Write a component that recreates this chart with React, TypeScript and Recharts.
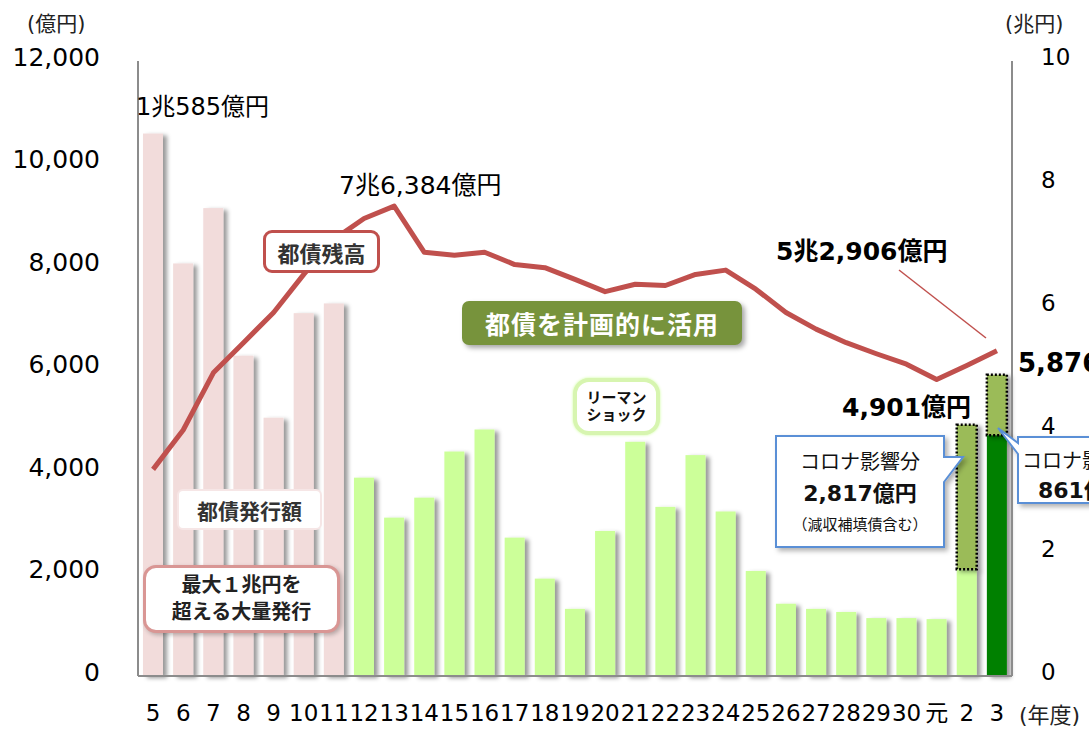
import React from "react";
import { Bar, Cell, ComposedChart, Line, XAxis, YAxis } from "recharts";

const FONT = '"DejaVu Sans", "Noto Sans CJK JP", sans-serif';

const YEARS = [
  "5", "6", "7", "8", "9", "10", "11", "12", "13", "14", "15", "16", "17", "18", "19",
  "20", "21", "22", "23", "24", "25", "26", "27", "28", "29", "30", "元", "2", "3",
];

// 都債発行額（億円）
const ISSUANCE = [
  10585, 8050, 9130, 6250, 5040, 7080, 7270, 3870, 3090, 3480, 4380, 4810, 2700, 1900, 1310,
  2830, 4570, 3300, 4310, 3210, 2050, 1410, 1310, 1250, 1130, 1130, 1110, 2084, 4700,
];

// コロナ影響分（億円）
const COVID = [
  0, 0, 0, 0, 0, 0, 0, 0, 0, 0, 0, 0, 0, 0, 0,
  0, 0, 0, 0, 0, 0, 0, 0, 0, 0, 0, 0, 2817, 1176,
];

// 都債残高（兆円）
const BALANCE = [
  3.36, 4.0, 4.93, 5.42, 5.91, 6.53, 7.1, 7.44, 7.64, 6.89, 6.84, 6.89, 6.69, 6.64, 6.45,
  6.25, 6.37, 6.35, 6.53, 6.6, 6.29, 5.91, 5.64, 5.42, 5.24, 5.07, 4.82, 5.05, 5.29,
];

const LEFT_TICKS = [0, 2000, 4000, 6000, 8000, 10000, 12000];
const RIGHT_TICKS = [0, 2, 4, 6, 8, 10];

const MASS_ISSUE_COUNT = 7;

const data = YEARS.map((year, i) => ({
  year,
  issue: ISSUANCE[i],
  covid: COVID[i],
  balance: BALANCE[i],
}));

const issueColor = (i: number) => {
  if (i < MASS_ISSUE_COUNT) return "#f2dcdb";
  if (i === YEARS.length - 1) return "#008000";
  return "#ccff99";
};

const ShadowBar = (p: any) => {
  if (!p.height || p.height <= 0) return null;
  return (
    <rect
      x={p.x}
      y={p.y}
      width={p.width}
      height={p.height}
      fill={p.fill}
      stroke={p.stroke}
      strokeWidth={p.strokeWidth}
      strokeDasharray={p.strokeDasharray}
      filter="url(#barShadow)"
    />
  );
};

const abs = (x: number, y: number, extra: React.CSSProperties = {}): React.CSSProperties => ({
  position: "absolute",
  left: x,
  top: y,
  fontFamily: FONT,
  whiteSpace: "nowrap",
  ...extra,
});

export default function App() {
  return (
    <div
      style={{
        position: "absolute",
        left: 0,
        top: 0,
        width: 1089,
        height: 731,
        overflow: "hidden",
        background: "#fff",
        fontFamily: FONT,
      }}
    >
      <svg width={0} height={0} style={{ position: "absolute" }}>
        <defs>
          <filter id="barShadow" x="-30%" y="-10%" width="180%" height="130%">
            <feDropShadow dx={4} dy={2} stdDeviation={2} floodColor="#000" floodOpacity={0.4} />
          </filter>
          <filter id="boxShadow" x="-20%" y="-20%" width="150%" height="160%">
            <feDropShadow dx={3} dy={3} stdDeviation={2.5} floodColor="#000" floodOpacity={0.3} />
          </filter>
        </defs>
      </svg>

      <ComposedChart
        width={1089}
        height={731}
        data={data}
        margin={{ top: 61, right: 0, bottom: 0, left: 0 }}
        barGap={0}
      >
        <XAxis
          dataKey="year"
          interval={0}
          height={55}
          tickLine={false}
          tickSize={0}
          tickMargin={29}
          axisLine={{ stroke: "#8c8c8c", strokeWidth: 2 }}
          tick={{ fontSize: 23, fill: "#000", fontFamily: FONT }}
        />
        <YAxis
          yAxisId="left"
          domain={[0, 12000]}
          ticks={LEFT_TICKS}
          width={138}
          tickLine={false}
          tickSize={0}
          tickMargin={38}
          axisLine={{ stroke: "#8c8c8c", strokeWidth: 2 }}
          tickFormatter={(v: number) => v.toLocaleString("en-US")}
          tick={{ fontSize: 25, fill: "#000", fontFamily: FONT, dy: -4 }}
        />
        <YAxis
          yAxisId="right"
          orientation="right"
          domain={[0, 10]}
          ticks={RIGHT_TICKS}
          width={77}
          tickLine={false}
          tickSize={0}
          tickMargin={29}
          axisLine={{ stroke: "#8c8c8c", strokeWidth: 2 }}
          tick={{ fontSize: 23, fill: "#000", fontFamily: FONT, dy: -4 }}
        />
        <Bar
          dataKey="issue"
          yAxisId="left"
          stackId="s"
          barSize={20}
          shape={ShadowBar}
          isAnimationActive={false}
        >
          {data.map((_, i) => (
            <Cell key={i} fill={issueColor(i)} />
          ))}
        </Bar>
        <Bar
          dataKey="covid"
          yAxisId="left"
          stackId="s"
          barSize={20}
          shape={ShadowBar}
          isAnimationActive={false}
        >
          {data.map((d, i) => (
            <Cell
              key={i}
              fill="#9bbb59"
              stroke={d.covid > 0 ? "#000" : "none"}
              strokeWidth={2.5}
              strokeDasharray="2 2"
            />
          ))}
        </Bar>
        <Line
          dataKey="balance"
          yAxisId="right"
          type="linear"
          stroke="#c0504d"
          strokeWidth={5}
          strokeLinejoin="round"
          dot={false}
          activeDot={false}
          isAnimationActive={false}
        />
      </ComposedChart>

      {/* 単位 */}
      <div style={abs(27, 7, { fontSize: 21, color: "#222" })}>(億円)</div>
      <div style={abs(1005, 7, { fontSize: 21, color: "#222" })}>(兆円)</div>
      <div style={abs(1019, 697, { fontSize: 22, color: "#222" })}>(年度)</div>

      {/* 値ラベル */}
      <div style={abs(136, 87, { fontSize: 24, color: "#000" })}>1兆585億円</div>
      <div style={abs(339, 165, { fontSize: 25, color: "#000" })}>7兆6,384億円</div>
      <div style={abs(776, 231, { fontSize: 25, fontWeight: 700, color: "#000" })}>5兆2,906億円</div>
      <div style={abs(842, 387, { fontSize: 25, fontWeight: 700, color: "#000" })}>4,901億円</div>
      <div style={abs(1018, 342, { fontSize: 26, fontWeight: 700, color: "#000" })}>5,876億円</div>

      {/* 吹き出し・引出線 */}
      <svg
        width={1089}
        height={731}
        style={{ position: "absolute", left: 0, top: 0, pointerEvents: "none" }}
      >
        <line x1={899} y1={270} x2={986} y2={338} stroke="#c0504d" strokeWidth={1.5} />
        <path
          d="M776,436 H944 V457 L963,457 L944,482 V547 H776 Z"
          fill="#fff"
          stroke="#5a8fd6"
          strokeWidth={2}
          filter="url(#boxShadow)"
        />
        <path
          d="M1018,437 H1100 V503 H1018 V454 L998,428 L1018,443 Z"
          fill="#fff"
          stroke="#5a8fd6"
          strokeWidth={2}
          filter="url(#boxShadow)"
        />
      </svg>

      <div style={abs(776, 446, { width: 168, textAlign: "center", fontSize: 20, color: "#111" })}>
        コロナ影響分
      </div>
      <div style={abs(776, 475, { width: 168, textAlign: "center", fontSize: 22, fontWeight: 700, color: "#111" })}>
        2,817億円
      </div>
      <div style={abs(776, 513, { width: 168, textAlign: "center", fontSize: 15, color: "#111" })}>
        （減収補填債含む）
      </div>
      <div style={abs(1022, 445, { fontSize: 20, color: "#111" })}>コロナ影響分</div>
      <div style={abs(1038, 472, { fontSize: 22, fontWeight: 700, color: "#111" })}>861億円</div>

      {/* ボックス */}
      <div
        style={abs(263, 230, {
          width: 117,
          height: 43,
          boxSizing: "border-box",
          border: "3px solid #c0504d",
          borderRadius: 9,
          background: "#fff",
          display: "flex",
          alignItems: "center",
          justifyContent: "center",
          fontSize: 22,
          fontWeight: 700,
          color: "#333",
        })}
      >
        都債残高
      </div>
      <div
        style={abs(462, 301, {
          width: 280,
          height: 44,
          boxSizing: "border-box",
          borderRadius: 7,
          background: "#77933c",
          boxShadow: "3px 3px 5px rgba(0,0,0,0.35)",
          display: "flex",
          alignItems: "center",
          justifyContent: "center",
          fontSize: 25,
          fontWeight: 700,
          letterSpacing: 1,
          color: "#fff",
        })}
      >
        都債を計画的に活用
      </div>
      <div
        style={abs(573, 378, {
          width: 87,
          height: 57,
          boxSizing: "border-box",
          border: "4px solid #d7f5b0",
          borderRadius: 16,
          background: "#fff",
          boxShadow: "0 0 3px #ccff99",
          display: "flex",
          flexDirection: "column",
          alignItems: "center",
          justifyContent: "center",
          fontSize: 15,
          fontWeight: 700,
          lineHeight: "17px",
          color: "#111",
        })}
      >
        <span>リーマン</span>
        <span>ショック</span>
      </div>
      <div
        style={abs(177, 489, {
          width: 145,
          height: 41,
          boxSizing: "border-box",
          border: "2px solid #f6e6e6",
          borderRadius: 6,
          background: "#fff",
          display: "flex",
          alignItems: "center",
          justifyContent: "center",
          fontSize: 21,
          fontWeight: 700,
          color: "#333",
        })}
      >
        都債発行額
      </div>
      <div
        style={abs(143, 565, {
          width: 197,
          height: 68,
          boxSizing: "border-box",
          border: "3px solid #d99694",
          borderRadius: 13,
          background: "#fff",
          boxShadow: "2px 2px 4px rgba(0,0,0,0.25)",
          display: "flex",
          flexDirection: "column",
          alignItems: "center",
          justifyContent: "center",
          fontSize: 20,
          fontWeight: 700,
          lineHeight: "27px",
          color: "#222",
        })}
      >
        <span>最大１兆円を</span>
        <span>超える大量発行</span>
      </div>
    </div>
  );
}
